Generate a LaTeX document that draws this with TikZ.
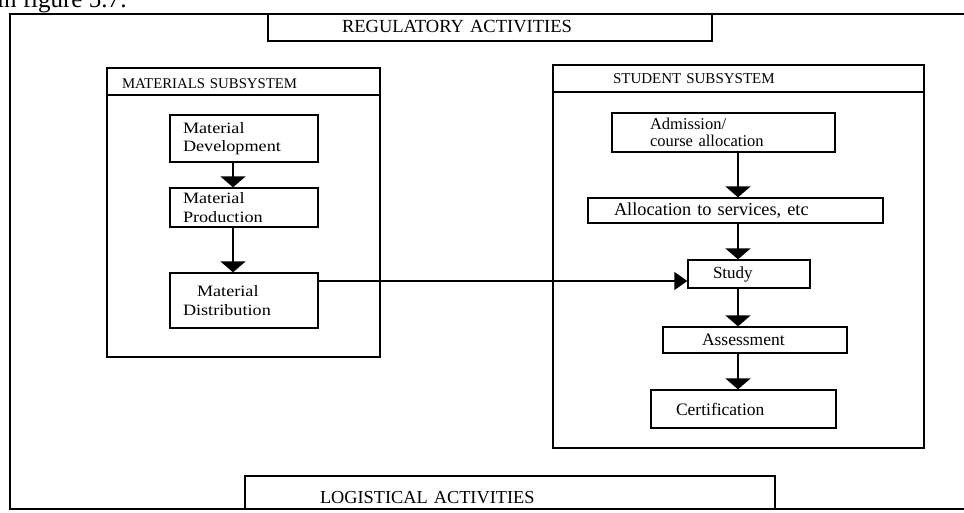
\documentclass[tikz,border=0pt]{standalone}
\usepackage{fontspec}
\setmainfont{Liberation Serif}
\newfontfamily\palfont[FakeStretch=1.15]{Liberation Serif}
\usetikzlibrary{arrows.meta}
\begin{document}
\begin{tikzpicture}[x=1pt,y=-1pt,
  thickline/.style={line width=2.4pt},
  bigbox/.style={draw, line width=2.4pt, inner ysep=0pt, align=left},
  lbox/.style={draw, line width=1.3pt, minimum width=148pt, inner xsep=13pt, text width=122pt, inner ysep=0pt, align=left,
    font=\palfont\fontsize{15.8}{18.5}\selectfont},
  rbox/.style={draw, line width=1.3pt, inner ysep=0pt, align=left, font=\fontsize{17.5}{19}\selectfont},
  varrow/.style={line width=1.8pt, -{Triangle[width=25pt,length=11pt]}},
  harrow/.style={line width=1.3pt, -{Triangle[width=18pt,length=13pt]}}
]
\useasboundingbox (0,0) rectangle (964,512);
\clip (0,0) rectangle (964,512);

% cut-off caption line of the page
\node[anchor=base west, inner sep=0pt, font=\fontsize{25}{30}\selectfont] (caption) at (-3,7) {in figure 5.7:};

% outer frame
\draw[thickline] (964,14) -- (10,14) -- (10,509) -- (964,509);

% regulatory / logistical activities
\node[bigbox, line width=2pt, minimum width=444pt, minimum height=27pt, inner xsep=74pt, text width=296pt,
  text height=12pt, text depth=3pt, font=\fontsize{18.5}{20}\selectfont] (reg) at (490,27.5) {REGULATORY ACTIVITIES};
\node[bigbox, line width=2pt, minimum width=530pt, minimum height=33pt, inner xsep=75pt, text width=380pt,
  text height=21pt, text depth=0pt, font=\fontsize{18.3}{20}\selectfont] (log) at (510,492.5) {LOGISTICAL ACTIVITIES};

% materials subsystem
\node[bigbox, minimum width=273pt, minimum height=262pt, inner xsep=0pt] (matbody) at (243.5,226) {};
\node[bigbox, minimum width=273pt, minimum height=27pt, inner xsep=15pt, text width=243pt,
  text height=13pt, text depth=0pt, font=\fontsize{14.8}{16}\selectfont] (mathead) at (243.5,81.5) {MATERIALS SUBSYSTEM};

\node[lbox, minimum height=47pt] (dev) at (244,138.5) {Material\\Development};
\node[lbox, minimum height=39pt] (prod) at (244,207.5) {Material\\Production};
\node[lbox, minimum height=55pt] (dist) at (244,300.5) {\hspace*{14pt}Material\\Distribution\\[6pt]};

% student subsystem
\node[bigbox, minimum width=371pt, minimum height=356pt, inner xsep=0pt] (stubody) at (738.5,270) {};
\node[bigbox, minimum width=371pt, minimum height=27pt, inner xsep=60pt, text width=251pt,
  text height=11pt, text depth=2pt, font=\fontsize{15}{16}\selectfont] (stuhead) at (738.5,78.5) {STUDENT SUBSYSTEM};

\node[rbox, minimum width=223pt, minimum height=39pt, inner xsep=38pt, text width=147pt,
  font=\fontsize{16.5}{17}\selectfont] (adm) at (723.5,132.5) {Admission/\\course allocation};
\node[rbox, minimum width=295pt, minimum height=25pt, inner xsep=26pt, text width=243pt,
  font=\fontsize{18.3}{19}\selectfont] (alloc) at (735.5,210.5) {Allocation to services, etc};
\node[rbox, minimum width=122pt, minimum height=28pt, inner xsep=25pt, text width=72pt,
  font=\fontsize{17}{19}\selectfont] (study) at (749,274) {Study};
\node[rbox, minimum width=184pt, minimum height=26pt, inner xsep=39pt, text width=106pt] (assess) at (755,340) {Assessment};
\node[rbox, minimum width=185pt, minimum height=38pt, inner xsep=25pt, text width=135pt] (cert) at (743.5,409) {Certification};

% connector guide coordinates
\coordinate (lx) at (233,0);
\coordinate (rx) at (738,0);
\coordinate (hy) at (0,281);

\draw[varrow] (dev.south -| lx) -- (prod.north -| lx);
\draw[varrow] (prod.south -| lx) -- (dist.north -| lx);

\draw[varrow] (adm.south -| rx) -- (alloc.north -| rx);
\draw[varrow] (alloc.south -| rx) -- (study.north -| rx);
\draw[varrow] (study.south -| rx) -- (assess.north -| rx);
\draw[varrow] (assess.south -| rx) -- (cert.north -| rx);

\draw[harrow] (dist.east |- hy) -- (study.west |- hy);
\end{tikzpicture}
\end{document}
